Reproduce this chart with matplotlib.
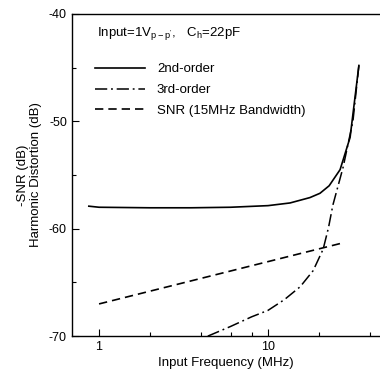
import matplotlib.pyplot as plt
from matplotlib.ticker import FixedLocator, NullFormatter

plt.rcParams['font.family'] = ['Liberation Sans', 'DejaVu Sans']

# 2nd-order harmonic distortion
f2 = [0.87, 1.0, 2.0, 3.5, 6.0, 10.0, 13.5, 17.7, 20.3, 23.0, 26.7, 30.6, 34.5]
hd2 = [-57.9, -58.0, -58.05, -58.05, -58.0, -57.85, -57.6, -57.1, -56.7, -56.0, -54.5, -51.5, -44.8]

# 3rd-order harmonic distortion
f3 = [4.4, 6.0, 8.0, 10.0, 12.5, 15.5, 18.5, 21.2, 22.8, 24.2, 27.8, 31.8, 34.5]
hd3 = [-70.0, -69.1, -68.2, -67.6, -66.6, -65.4, -63.9, -61.9, -59.9, -57.8, -54.3, -50.0, -44.8]

# SNR (15MHz bandwidth)
f_snr = [1.0, 28.0]
snr = [-67.0, -61.3]

fig = plt.figure(figsize=(3.8, 3.76), dpi=100)
ax = fig.add_axes([0.189, 0.106, 0.811, 0.857])

ax.plot(f2, hd2, color='black', lw=1.2, label='2nd-order')
ax.plot(f3, hd3, color='black', lw=1.1, dashes=(8, 2.5, 1.2, 2.5), label='3rd-order')
ax.plot(f_snr, snr, color='black', lw=1.2, dashes=(5, 3), label='SNR (15MHz Bandwidth)')

ax.set_xscale('log')
ax.set_xlim(0.69, 46)
ax.set_ylim(-70, -40)
ax.xaxis.set_major_locator(FixedLocator([1, 10]))
ax.xaxis.set_minor_locator(FixedLocator([2, 4, 6, 8, 20, 40]))
ax.xaxis.set_minor_formatter(NullFormatter())
ax.set_xticklabels(['1', '10'])
ax.set_yticks([-70, -60, -50, -40])
ax.set_yticklabels(['-70', '-60', '-50', '-40'])
ax.set_yticks([-65, -55, -45], minor=True)
ax.tick_params(which='both', direction='in', labelsize=9, width=0.8)
ax.tick_params(which='major', length=5)
ax.tick_params(which='minor', length=3)
ax.spines['right'].set_visible(False)
for s in ['left', 'bottom', 'top']:
    ax.spines[s].set_linewidth(1.0)

ax.set_xlabel('Input Frequency (MHz)', fontsize=9.5, labelpad=3)
ax.set_ylabel('-SNR (dB)\nHarmonic Distortion (dB)', fontsize=9.5, labelpad=5, linespacing=1.1)

ax.text(0.081, 0.938, r"Input=1V$_{\mathregular{p-p'}}$,   C$_{\mathregular{h}}$=22pF",
        transform=ax.transAxes, fontsize=9.5, va='center')
ax.legend(loc='upper left', bbox_to_anchor=(0.075, 0.847), frameon=False, fontsize=9.5,
          handlelength=3.8, handletextpad=0.9, labelspacing=0.64, borderaxespad=0,
          borderpad=0)

fig.savefig('out.png', dpi=100)
